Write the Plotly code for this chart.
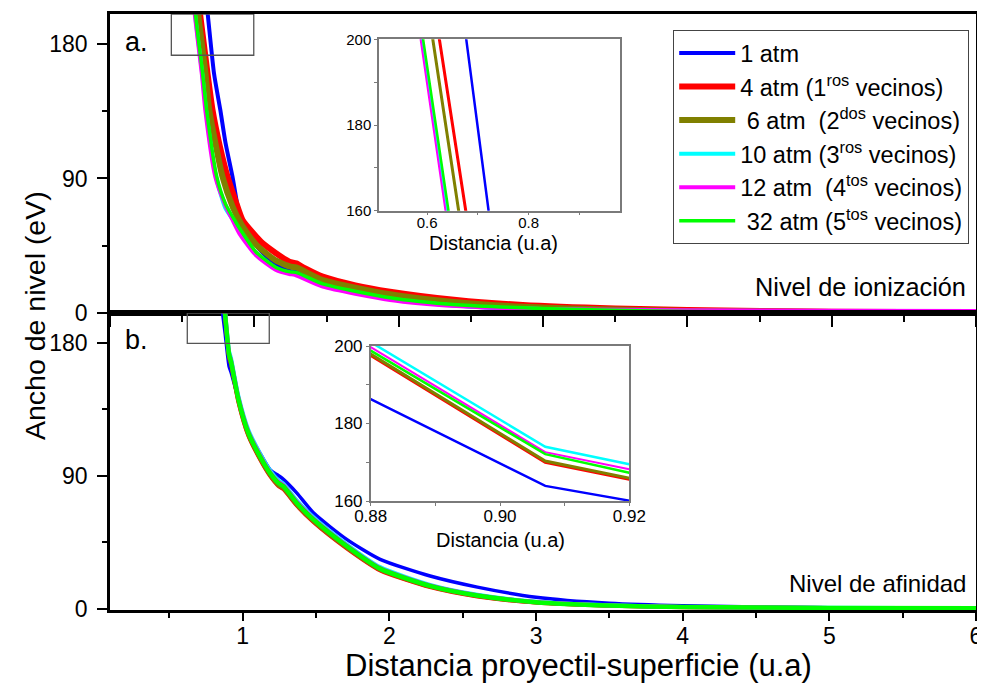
import plotly.graph_objects as go

W, H = 977, 681   # page has an 8px body margin inside the 985x689 window
OFF = 8
FONT = "Liberation Sans, Arial, sans-serif"

# ---------------- data: panel a (Nivel de ionización) ----------------
blue_a_x = [0.62, 0.677, 0.721, 0.764, 0.80, 0.849, 0.90, 0.95, 1.05, 1.15, 1.25, 1.30, 1.50, 1.75, 2.0, 2.5, 3.0, 3.5, 4.0, 5.0, 6.0]
blue_a_y = [250, 200, 160, 136, 114, 91, 64, 53, 41, 33, 28, 27.2, 19, 12.8, 8.8, 4.3, 2.1, 1.1, 0.6, 0.25, 0.1]

red_a_x = [0.55, 0.60, 0.624, 0.65, 0.676, 0.71, 0.76, 0.815, 0.87, 0.919, 1.00, 1.058, 1.15, 1.243, 1.29, 1.35, 1.474, 1.70, 1.94, 2.40, 2.86, 3.50, 4.00, 5.00, 6.00]
red_a_y = [270, 222, 200, 180, 160, 136, 112, 91, 75, 62, 52.5, 46.6, 40, 34.3, 33.2, 30.0, 24.3, 18.5, 14.3, 8.7, 5.35, 3.0, 2.0, 0.9, 0.5]

olive_a_x = [0.545, 0.611, 0.662, 0.6875, 0.78, 0.85, 0.912, 1.01, 1.15, 1.25, 1.29, 1.474, 1.94, 2.40, 2.86, 3.5, 4.0, 5.0, 6.0]
olive_a_y = [270, 200, 160, 136, 91, 71, 59, 46, 35, 31, 30.5, 22, 12.5, 7.2, 4.2, 2.3, 1.4, 0.6, 0.3]

cyan_a_x = [0.53, 0.589, 0.639, 0.665, 0.735, 0.80, 0.87, 0.90, 1.01, 1.15, 1.25, 1.285, 1.474, 1.94, 2.40, 3.0, 4.0, 5.0, 6.0]
cyan_a_y = [270, 200, 160, 136, 91, 70, 60, 54.5, 40, 29.8, 26.8, 26.4, 18.5, 9.5, 4.9, 2.6, 1.1, 0.5, 0.3]

magenta_a_x = [0.52, 0.587, 0.636, 0.66, 0.73, 0.80, 0.85, 0.896, 1.01, 1.15, 1.243, 1.28, 1.474, 1.94, 2.40, 3.0, 4.0, 5.0, 6.0]
magenta_a_y = [270, 200, 160, 136, 91, 72, 62, 53.3, 38.8, 28.8, 26.1, 25.5, 17.6, 8.7, 4.6, 2.6, 1.8, 1.5, 1.4]

green_a_x = [0.53, 0.592, 0.642, 0.669, 0.74, 0.80, 0.87, 0.905, 1.01, 1.15, 1.25, 1.29, 1.474, 1.94, 2.40, 3.0, 3.5, 4.0, 5.0, 6.0]
green_a_y = [270, 200, 160, 136, 91, 73, 61, 55.5, 41, 30.5, 27.5, 27.2, 19.5, 10.2, 5.5, 3.0, 1.8, 1.0, 0.4, 0.2]

# ---------------- data: panel b (Nivel de afinidad) ----------------
blue_b_x = [0.85, 0.88, 0.907, 0.92, 0.97, 1.027, 1.118, 1.186, 1.232, 1.266, 1.368, 1.482, 1.709, 1.937, 2.278, 2.6, 3.0, 3.5, 4.0, 5.0, 6.0]
blue_b_y = [210, 186.3, 163.9, 160.1, 142, 122, 105, 94, 90.7, 88.4, 78.3, 64.8, 46.8, 33.3, 22.0, 14.5, 7.6, 3.5, 1.8, 0.6, 0.3]

common_b_x = [0.86, 0.88, 0.907, 0.92, 0.97, 1.038, 1.118, 1.186, 1.243, 1.277, 1.368, 1.482, 1.709, 1.937, 2.278, 2.6, 3.0, 3.5, 4.0, 5.0, 6.0]
red_b_y = [216.6, 197.6, 170.0, 165.6, 140, 117, 101, 89.8, 83, 80.8, 69.7, 58.5, 40.7, 25.8, 14.5, 8.2, 4.0, 1.85, 0.9, 0.35, 0.15]
olive_b_y = [217, 197.9, 170.3, 165.9, 140.5, 117.5, 101.5, 90.3, 83.5, 81.3, 70.2, 59, 41.2, 26.2, 14.8, 8.4, 4.1, 1.9, 0.95, 0.38, 0.18]
cyan_b_y = [221, 201, 174, 169.5, 144, 121, 105, 93.5, 86.8, 84.5, 73.2, 61.8, 43.5, 28, 16, 9.3, 4.6, 2.2, 1.1, 0.45, 0.25]
magenta_b_y = [220, 199.7, 172.6, 168.2, 143, 120, 104, 92.5, 85.8, 83.6, 72.3, 61, 42.8, 27.4, 15.6, 9.0, 4.4, 2.1, 1.05, 0.42, 0.22]
green_b_y = [219, 198.8, 172.1, 167.3, 142, 119, 103, 91.8, 85, 82.8, 71.6, 60.3, 42.3, 27, 15.3, 8.8, 4.3, 2.0, 1.0, 0.4, 0.2]

names = ["1 atm",
         "4 atm (1<sup>ros</sup> vecinos)",
         "\u00a06 atm \u00a0(2<sup>dos</sup> vecinos)",
         "10 atm (3<sup>ros</sup> vecinos)",
         "12 atm \u00a0(4<sup>tos</sup> vecinos)",
         "\u00a032 atm (5<sup>tos</sup> vecinos)"]
colors = ["#0000FF", "#FF0000", "#808000", "#00FFFF", "#FF00FF", "#00FF00"]

series_a = [(blue_a_x, blue_a_y), (red_a_x, red_a_y), (olive_a_x, olive_a_y),
            (cyan_a_x, cyan_a_y), (magenta_a_x, magenta_a_y), (green_a_x, green_a_y)]
series_b = [(blue_b_x, blue_b_y), (common_b_x, red_b_y), (common_b_x, olive_b_y),
            (common_b_x, cyan_b_y), (common_b_x, magenta_b_y), (common_b_x, green_b_y)]

width_a = [4, 6, 6, 4, 4, 3.5]
width_b = [3.5, 4, 4, 4, 4, 4.5]
width_in = [2.5, 3, 3, 2.5, 2, 2.5]

fig = go.Figure()
for i in range(6):
    fig.add_trace(go.Scatter(x=series_a[i][0], y=series_a[i][1], mode="lines", name=names[i],
                             line=dict(color=colors[i], width=width_a[i], shape="spline", smoothing=0.6),
                             xaxis="x", yaxis="y", showlegend=True, legendgroup=str(i)))
for i in range(6):
    fig.add_trace(go.Scatter(x=series_b[i][0], y=series_b[i][1], mode="lines", name=names[i],
                             line=dict(color=colors[i], width=width_b[i], shape="spline", smoothing=0.6),
                             xaxis="x2", yaxis="y2", showlegend=False, legendgroup=str(i)))
for i in range(6):
    fig.add_trace(go.Scatter(x=series_a[i][0], y=series_a[i][1], mode="lines", name=names[i],
                             line=dict(color=colors[i], width=width_in[i]), xaxis="x3", yaxis="y3",
                             showlegend=False, legendgroup=str(i)))
for i in range(6):
    fig.add_trace(go.Scatter(x=series_b[i][0], y=series_b[i][1], mode="lines", name=names[i],
                             line=dict(color=colors[i], width=width_in[i]), xaxis="x4", yaxis="y4",
                             showlegend=False, legendgroup=str(i)))


def px(v):
    return (v - OFF) / W


def py(v):
    return 1 - (v - OFF) / H


main_ax = dict(showline=True, linecolor="black", linewidth=2.5, mirror=True, showgrid=False,
               zeroline=False, ticks="outside", tickcolor="black", tickwidth=2, automargin=False,
               ticklabeloverflow="allow",
               tickfont=dict(family=FONT, size=23, color="black"))

inset_common = dict(showline=True, linecolor="#7a7a7a", linewidth=1.5, mirror=True, showgrid=False,
                    zeroline=False, ticks="outside", ticklen=3, tickcolor="#7a7a7a", automargin=False,
                    ticklabeloverflow="allow")

fig.update_layout(
    width=W, height=H, margin=dict(l=0, r=0, t=0, b=0),
    paper_bgcolor="white", plot_bgcolor="white",
    font=dict(family=FONT, color="black"),
    xaxis=dict(main_ax, domain=[px(110), px(976)], range=[0, 6], anchor="y", dtick=1, tick0=0,
               ticklen=11, showticklabels=False,
               minor=dict(dtick=0.5, tick0=0, ticklen=6, tickwidth=2, tickcolor="black", ticks="outside")),
    yaxis=dict(main_ax, domain=[py(313), py(14)], range=[0, 200], anchor="x", dtick=90, tick0=0,
               ticklen=10, ticklabelstandoff=5,
               minor=dict(dtick=45, tick0=0, ticklen=5, tickwidth=2, tickcolor="black", ticks="outside")),
    xaxis2=dict(main_ax, domain=[px(110), px(976)], range=[0.095, 6], anchor="y2", dtick=1, tick0=0,
                ticklen=8, ticklabelstandoff=-4,
                minor=dict(dtick=0.5, tick0=0, ticklen=5, tickwidth=2, tickcolor="black", ticks="outside")),
    yaxis2=dict(main_ax, domain=[py(610), py(313)], range=[-1, 200], anchor="x2", dtick=90, tick0=0,
                ticklen=10, ticklabelstandoff=5,
                minor=dict(dtick=45, tick0=0, ticklen=5, tickwidth=2, tickcolor="black", ticks="outside")),
    xaxis3=dict(inset_common, domain=[px(379), px(620)], range=[0.505, 0.98], anchor="y3",
                tickvals=[0.6, 0.8], ticktext=["0.6", "0.8"], ticklabelstandoff=-5,
                minor=dict(tickvals=[0.7, 0.9], ticklen=3, tickcolor="#7a7a7a", ticks="outside"),
                tickfont=dict(family=FONT, size=15)),
    yaxis3=dict(inset_common, domain=[py(210.7), py(39.3)], range=[160, 200], anchor="x3",
                dtick=20, tick0=160,
                minor=dict(dtick=10, ticklen=3, tickcolor="#7a7a7a", ticks="outside"),
                tickfont=dict(family=FONT, size=15)),
    xaxis4=dict(inset_common, domain=[px(370.7), px(629.3)], range=[0.88, 0.92], anchor="y4",
                tickvals=[0.88, 0.90, 0.92], ticktext=["0.88", "0.90", "0.92"],
                minor=dict(tickvals=[0.89, 0.91], ticklen=3, tickcolor="#7a7a7a", ticks="outside"),
                tickfont=dict(family=FONT, size=17), ticklabelstandoff=-4),
    yaxis4=dict(inset_common, domain=[py(501), py(346)], range=[160, 200], anchor="x4",
                dtick=20, tick0=160,
                minor=dict(dtick=10, ticklen=3, tickcolor="#7a7a7a", ticks="outside"),
                tickfont=dict(family=FONT, size=17)),
    legend=dict(x=px(673), y=py(30), xanchor="left", yanchor="top", bgcolor="white",
                bordercolor="#444", borderwidth=1.2, font=dict(family=FONT, size=23.5, color="black"),
                itemwidth=56, tracegroupgap=0.5, traceorder="normal"),
    showlegend=True,
)

# zoom marker rectangles
fig.add_shape(type="rect", xref="x", yref="y", x0=0.425, x1=0.996, y0=172.4, y1=200,
              line=dict(color="#555", width=1.3))
fig.add_shape(type="rect", xref="x2", yref="y2", x0=0.622, x1=1.181, y0=179.5, y1=200,
              line=dict(color="#555", width=1.3))

ann = [
    dict(text="a.", x=px(123), y=py(42), xanchor="left", yanchor="middle", font=dict(size=27)),
    dict(text="b.", x=px(123), y=py(340), xanchor="left", yanchor="middle", font=dict(size=27)),
    dict(text="Nivel de ionización", x=px(968), y=py(287), xanchor="right", yanchor="middle", font=dict(size=25.3)),
    dict(text="Nivel de afinidad", x=px(968), y=py(583), xanchor="right", yanchor="middle", font=dict(size=24)),
    dict(text="Ancho de nivel (eV)", x=px(35), y=py(316), xanchor="center", yanchor="middle",
         textangle=-90, font=dict(size=28.5)),
    dict(text="Distancia proyectil-superficie (u.a)", x=px(578), y=py(665), xanchor="center",
         yanchor="middle", font=dict(size=31)),
    dict(text="Distancia (u.a)", x=px(493), y=py(243), xanchor="center", yanchor="middle", font=dict(size=20)),
    dict(text="Distancia (u.a)", x=px(501), y=py(540), xanchor="center", yanchor="middle", font=dict(size=20)),
]
for a in ann:
    a.update(xref="paper", yref="paper", showarrow=False)
    a["font"] = dict(family=FONT, color="black", **a["font"])
    fig.add_annotation(**a)

fig.write_html("out.html")
